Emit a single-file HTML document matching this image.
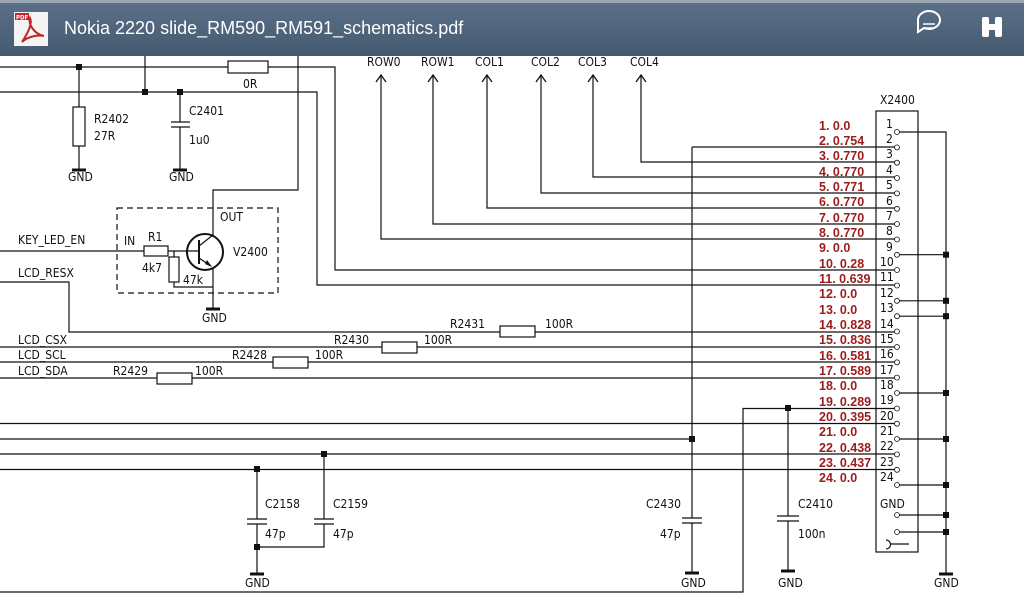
<!DOCTYPE html>
<html><head><meta charset="utf-8"><style>
html,body{margin:0;padding:0;width:1024px;height:600px;overflow:hidden;background:#fff}
.hdr{position:absolute;left:0;top:0;width:1024px;height:56px;background:linear-gradient(#5b7088,#445a70);border-top:3px solid #9aa6b2;box-sizing:border-box}
.t{position:absolute;left:64px;top:15px;color:#fff;font:18px "Liberation Sans",sans-serif}
svg{position:absolute;left:0;top:0}
text{font-family:"DejaVu Sans Condensed","DejaVu Sans","Liberation Sans",sans-serif;font-size:12px;fill:#111}
.r{fill:#9b1c1c;font-weight:bold;font-size:12.5px;font-family:"Liberation Sans",sans-serif}
</style></head><body>
<div class="hdr"><div class="t">Nokia 2220 slide_RM590_RM591_schematics.pdf</div></div>
<svg width="1024" height="600" viewBox="0 0 1024 600">
<!-- header icons -->
<rect x="14" y="12" width="34" height="34" fill="#f4f4f4"/>
<rect x="15" y="13" width="14" height="7" fill="#c0262a"/>
<text x="16" y="19.5" style="font-size:6px;fill:#fff;font-weight:bold">PDF</text>
<path d="M22 42 C30 30 32 22 30 18 C28 24 34 34 44 36 C36 34 26 38 22 42Z" fill="none" stroke="#c0262a" stroke-width="2"/>
<path d="M918 20 a11 9 0 1 1 6 8 l-6 4 z" fill="none" stroke="#fff" stroke-width="2"/>
<line x1="923" y1="24" x2="935" y2="24" stroke="#fff" stroke-width="1.5"/><line x1="923" y1="28" x2="933" y2="28" stroke="#fff" stroke-width="1.5"/>
<rect x="982" y="17" width="7" height="20" rx="2" fill="#fff"/><rect x="995" y="17" width="7" height="20" rx="2" fill="#fff"/><rect x="986" y="24" width="12" height="6" fill="#fff"/>

<g stroke="#111" stroke-width="1.2" fill="none">
<!-- top left -->
<polyline points="0,67 228,67"/><rect x="228" y="61" width="40" height="12"/><polyline points="268,67 335,67 335,270 897,270"/>
<polyline points="0,92 317,92 317,285 897,285"/>
<line x1="145" y1="56" x2="145" y2="92"/>
<line x1="79" y1="67" x2="79" y2="107"/><rect x="73" y="107" width="12" height="39"/><line x1="79" y1="146" x2="79" y2="169"/>
<line x1="180" y1="92" x2="180" y2="122"/><line x1="180" y1="127" x2="180" y2="169"/>
<line x1="171" y1="122" x2="190" y2="122"/><line x1="171" y1="127" x2="190" y2="127"/>
<polyline points="298,56 298,190 213,190 213,235"/>
<!-- transistor -->
<rect x="117" y="208" width="161" height="85" stroke-dasharray="6,4"/>
<circle cx="205" cy="252" r="18" stroke-width="2"/>
<line x1="199" y1="240" x2="199" y2="264" stroke-width="2"/>
<line x1="199" y1="246" x2="213" y2="235"/><line x1="199" y1="258" x2="211" y2="266"/>
<line x1="213" y1="268" x2="213" y2="308"/>
<polyline points="0,251 144,251"/><rect x="144" y="246" width="24" height="10"/><line x1="168" y1="251" x2="199" y2="251"/>
<line x1="174" y1="251" x2="174" y2="257"/><rect x="169" y="257" width="10" height="25"/><polyline points="174,282 174,287 213,287"/>
<polyline points="0,282 69,282 69,332 500,332"/><rect x="500" y="326" width="35" height="11"/><line x1="535" y1="332" x2="897" y2="332"/>
<line x1="0" y1="347" x2="382" y2="347"/><rect x="382" y="342" width="35" height="11"/><line x1="417" y1="347" x2="897" y2="347"/>
<line x1="0" y1="362" x2="273" y2="362"/><rect x="273" y="357" width="35" height="11"/><line x1="308" y1="362" x2="897" y2="362"/>
<line x1="0" y1="378" x2="157" y2="378"/><rect x="157" y="373" width="35" height="11"/><line x1="192" y1="378" x2="897" y2="378"/>
<line x1="0" y1="423.5" x2="897" y2="423.5"/>
<line x1="0" y1="439" x2="692" y2="439"/>
<line x1="0" y1="454" x2="897" y2="454"/>
<line x1="0" y1="469.5" x2="897" y2="469.5"/>
<polyline points="0,592 743,592 743,408.5 897,408.5"/>
<!-- caps bottom -->
<line x1="257" y1="469" x2="257" y2="519"/><line x1="257" y1="524" x2="257" y2="573"/>
<line x1="247" y1="519" x2="267" y2="519"/><line x1="247" y1="524" x2="267" y2="524"/>
<line x1="324" y1="454" x2="324" y2="519"/><polyline points="324,524 324,547 257,547"/>
<line x1="314" y1="519" x2="334" y2="519"/><line x1="314" y1="524" x2="334" y2="524"/>
<polyline points="692,147 897,147"/><line x1="692" y1="147" x2="692" y2="518"/><line x1="692" y1="523" x2="692" y2="572"/>
<line x1="682" y1="518" x2="702" y2="518"/><line x1="682" y1="523" x2="702" y2="523"/>
<line x1="788" y1="408" x2="788" y2="516"/><line x1="788" y1="521" x2="788" y2="570"/>
<line x1="777" y1="516" x2="799" y2="516"/><line x1="777" y1="521" x2="799" y2="521"/>
<!-- row/col -->
<polyline points="641,75 641,162 897,162"/><polyline points="593,75 593,177 897,177"/>
<polyline points="541,75 541,193 897,193"/><polyline points="487,75 487,208 897,208"/>
<polyline points="433,75 433,224 897,224"/><polyline points="381,75 381,239 897,239"/>
<!-- connector -->
<rect x="876" y="111" width="42" height="441"/>
<polyline points="897,132 946,132 946,573"/>
<line x1="897" y1="254.7" x2="946" y2="254.7"/><line x1="897" y1="300.8" x2="946" y2="300.8"/>
<line x1="897" y1="316.2" x2="946" y2="316.2"/><line x1="897" y1="393" x2="946" y2="393"/>
<line x1="897" y1="439" x2="946" y2="439"/><line x1="897" y1="485" x2="946" y2="485"/>
<line x1="897" y1="515" x2="946" y2="515"/><line x1="897" y1="532" x2="946" y2="532"/>
<path d="M886 540 a4 4 0 0 1 0 9" /><line x1="890" y1="544" x2="909" y2="544"/>
</g>
<g stroke="#111" stroke-width="3">
<line x1="72" y1="170" x2="86" y2="170"/><line x1="173" y1="170" x2="187" y2="170"/><line x1="206" y1="309" x2="220" y2="309"/>
<line x1="250" y1="574" x2="264" y2="574"/><line x1="685" y1="573" x2="699" y2="573"/><line x1="781" y1="571" x2="795" y2="571"/><line x1="939" y1="574" x2="953" y2="574"/>
</g>
<g fill="#111">
<path d="M376 82 L381 75 L386 82" fill="none" stroke="#111" stroke-width="1.3"/>
<path d="M428 82 L433 75 L438 82" fill="none" stroke="#111" stroke-width="1.3"/>
<path d="M482 82 L487 75 L492 82" fill="none" stroke="#111" stroke-width="1.3"/>
<path d="M536 82 L541 75 L546 82" fill="none" stroke="#111" stroke-width="1.3"/>
<path d="M588 82 L593 75 L598 82" fill="none" stroke="#111" stroke-width="1.3"/>
<path d="M636 82 L641 75 L646 82" fill="none" stroke="#111" stroke-width="1.3"/>
<path d="M205 264 L212 267 L207 260Z"/>
<rect x="76" y="64" width="6" height="6"/><rect x="142" y="89" width="6" height="6"/><rect x="177" y="89" width="6" height="6"/>
<rect x="254" y="466" width="6" height="6"/><rect x="321" y="451" width="6" height="6"/><rect x="254" y="544" width="6" height="6"/>
<rect x="689" y="436" width="6" height="6"/><rect x="785" y="405" width="6" height="6"/>
<rect x="943" y="251.7" width="6" height="6"/><rect x="943" y="297.8" width="6" height="6"/><rect x="943" y="313.2" width="6" height="6"/>
<rect x="943" y="390" width="6" height="6"/><rect x="943" y="436" width="6" height="6"/><rect x="943" y="482" width="6" height="6"/>
<rect x="943" y="512" width="6" height="6"/><rect x="943" y="529" width="6" height="6"/>
</g>
<g fill="#fff" stroke="#111" stroke-width="0.8">
<circle cx="897" cy="132" r="2.5"/><circle cx="897" cy="147.4" r="2.5"/><circle cx="897" cy="162.7" r="2.5"/><circle cx="897" cy="178" r="2.5"/>
<circle cx="897" cy="193.4" r="2.5"/><circle cx="897" cy="208.8" r="2.5"/><circle cx="897" cy="224" r="2.5"/><circle cx="897" cy="239.5" r="2.5"/>
<circle cx="897" cy="254.8" r="2.5"/><circle cx="897" cy="270" r="2.5"/><circle cx="897" cy="285.5" r="2.5"/><circle cx="897" cy="300.8" r="2.5"/>
<circle cx="897" cy="316.2" r="2.5"/><circle cx="897" cy="331.5" r="2.5"/><circle cx="897" cy="347" r="2.5"/><circle cx="897" cy="362.3" r="2.5"/>
<circle cx="897" cy="377.6" r="2.5"/><circle cx="897" cy="393" r="2.5"/><circle cx="897" cy="408.5" r="2.5"/><circle cx="897" cy="423.7" r="2.5"/>
<circle cx="897" cy="439" r="2.5"/><circle cx="897" cy="454.4" r="2.5"/><circle cx="897" cy="469.8" r="2.5"/><circle cx="897" cy="485" r="2.5"/>
<circle cx="897" cy="515" r="2.5"/><circle cx="897" cy="532" r="2.5"/>
</g>
<!-- labels -->
<text x="243" y="88">0R</text>
<text x="94" y="123">R2402</text><text x="94" y="140">27R</text>
<text x="189" y="115">C2401</text><text x="189" y="144">1u0</text>
<text x="68" y="181">GND</text><text x="169" y="181">GND</text><text x="202" y="322">GND</text>
<text x="220" y="221">OUT</text><text x="124" y="245">IN</text><text x="148" y="241">R1</text>
<text x="142" y="272">4k7</text><text x="183" y="284">47k</text><text x="233" y="256">V2400</text>
<text x="18" y="244">KEY_LED_EN</text><text x="18" y="277">LCD_RESX</text>
<text x="18" y="344">LCD_CSX</text><text x="18" y="359">LCD_SCL</text><text x="18" y="375">LCD_SDA</text>
<text x="450" y="328">R2431</text><text x="545" y="328">100R</text>
<text x="334" y="344">R2430</text><text x="424" y="344">100R</text>
<text x="232" y="359">R2428</text><text x="315" y="359">100R</text>
<text x="113" y="375">R2429</text><text x="195" y="375">100R</text>
<text x="265" y="508">C2158</text><text x="265" y="538">47p</text>
<text x="333" y="508">C2159</text><text x="333" y="538">47p</text>
<text x="245" y="587">GND</text>
<text x="646" y="508">C2430</text><text x="660" y="538">47p</text><text x="681" y="587">GND</text>
<text x="798" y="508">C2410</text><text x="798" y="538">100n</text><text x="778" y="587">GND</text>
<text x="934" y="587">GND</text>
<text x="367" y="66">ROW0</text><text x="421" y="66">ROW1</text><text x="475" y="66">COL1</text>
<text x="531" y="66">COL2</text><text x="578" y="66">COL3</text><text x="630" y="66">COL4</text>
<text x="880" y="104">X2400</text>
<g style="font-size:10.5px">
<text x="886" y="128">1</text><text x="886" y="143">2</text><text x="886" y="158">3</text><text x="886" y="174">4</text>
<text x="886" y="189">5</text><text x="886" y="205">6</text><text x="886" y="220">7</text><text x="886" y="235">8</text>
<text x="886" y="251">9</text><text x="880" y="266">10</text><text x="880" y="281">11</text><text x="880" y="297">12</text>
<text x="880" y="312">13</text><text x="880" y="328">14</text><text x="880" y="343">15</text><text x="880" y="358">16</text>
<text x="880" y="374">17</text><text x="880" y="389">18</text><text x="880" y="404">19</text><text x="880" y="420">20</text>
<text x="880" y="435">21</text><text x="880" y="450">22</text><text x="880" y="466">23</text><text x="880" y="481">24</text>
<text x="880" y="508">GND</text>
</g>
<g class="r">
<text class="r" x="819" y="130">1. 0.0</text><text class="r" x="819" y="145">2. 0.754</text><text class="r" x="819" y="160">3. 0.770</text>
<text class="r" x="819" y="176">4. 0.770</text><text class="r" x="819" y="191">5. 0.771</text><text class="r" x="819" y="206">6. 0.770</text>
<text class="r" x="819" y="222">7. 0.770</text><text class="r" x="819" y="237">8. 0.770</text><text class="r" x="819" y="252">9. 0.0</text>
<text class="r" x="819" y="268">10. 0.28</text><text class="r" x="819" y="283">11. 0.639</text><text class="r" x="819" y="298">12. 0.0</text>
<text class="r" x="819" y="314">13. 0.0</text><text class="r" x="819" y="329">14. 0.828</text><text class="r" x="819" y="344">15. 0.836</text>
<text class="r" x="819" y="360">16. 0.581</text><text class="r" x="819" y="375">17. 0.589</text><text class="r" x="819" y="390">18. 0.0</text>
<text class="r" x="819" y="406">19. 0.289</text><text class="r" x="819" y="421">20. 0.395</text><text class="r" x="819" y="436">21. 0.0</text>
<text class="r" x="819" y="452">22. 0.438</text><text class="r" x="819" y="467">23. 0.437</text><text class="r" x="819" y="482">24. 0.0</text>
</g>
</svg>
</body></html>
